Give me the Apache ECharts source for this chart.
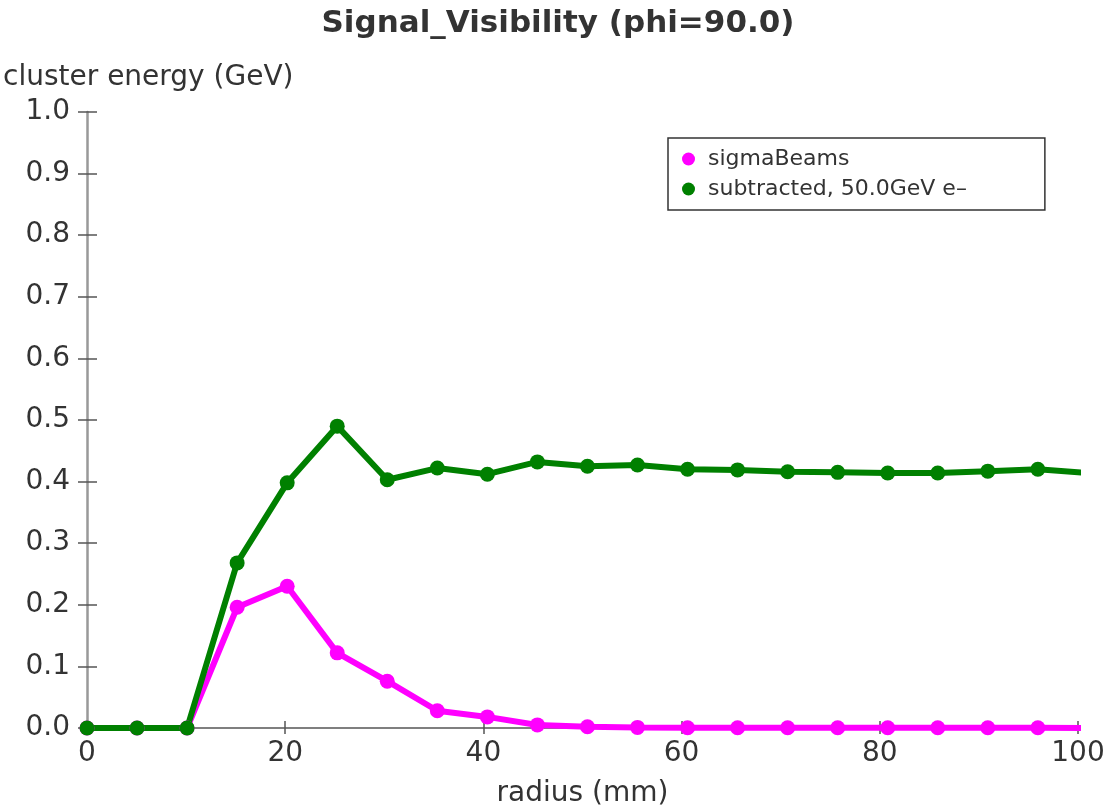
<!DOCTYPE html>
<html>
<head>
<meta charset="utf-8">
<script src="https://cdn.jsdelivr.net/npm/echarts@6/dist/echarts.min.js"></script>
<style>
  html, body { margin: 0; padding: 0; background: #fff; }
  #chart { width: 1116px; height: 809px; }
</style>
</head>
<body>
<div id="chart"></div>
<script>
// radius points (mm), step ~5.05
var radius = [0, 5.05, 10.1, 15.15, 20.2, 25.25, 30.3, 35.35, 40.4, 45.45, 50.5,
              55.55, 60.6, 65.65, 70.7, 75.75, 80.8, 85.85, 90.9, 95.95, 101];
var sigmaBeams = [0, 0, 0, 0.196, 0.230, 0.122, 0.076, 0.028, 0.018, 0.005, 0.002,
                  0.001, 0.0005, 0.0005, 0.0005, 0.0005, 0.0005, 0.0005, 0.0005, 0.0005, 0];
var subtracted = [0, 0, 0, 0.268, 0.398, 0.490, 0.403, 0.422, 0.412, 0.432, 0.425,
                  0.427, 0.420, 0.419, 0.416, 0.415, 0.414, 0.414, 0.417, 0.420, 0.414];

function pairs(xs, ys) {
    var out = [];
    for (var i = 0; i < xs.length; i++) out.push([xs[i], ys[i]]);
    return out;
}

var myChart = echarts.init(document.getElementById('chart'));
var font = 'DejaVu Sans';
var option = {
    animation: false,
    textStyle: { fontFamily: font },
    title: {
        text: 'Signal_Visibility (phi=90.0)',
        left: 'center',
        top: 3,
        textStyle: { fontFamily: font, fontSize: 31, fontWeight: 'bold', color: '#333' }
    },
    legend: {
        orient: 'vertical',
        left: 668,
        top: 138,
        padding: [10, 78, 10, 14],
        itemGap: 8,
        itemWidth: 13,
        itemHeight: 13,
        icon: 'circle',
        borderColor: '#333',
        borderWidth: 1.5,
        borderRadius: 0,
        textStyle: { fontFamily: font, fontSize: 22, color: '#333', padding: [0, 0, 0, 8] },
        data: ['sigmaBeams', 'subtracted, 50.0GeV e\u2013']
    },
    grid: { left: 87, right: 38, top: 112, bottom: 81, containLabel: false, outerBoundsMode: 'none' },
    xAxis: [{
        type: 'value',
        min: 0,
        max: 100,
        interval: 20,
        name: 'radius (mm)',
        nameLocation: 'middle',
        nameGap: 52,
        nameTextStyle: { fontFamily: font, fontSize: 28, color: '#333' },
        axisLine: { lineStyle: { color: '#555', width: 1.5 } },
        axisTick: { inside: true, length: 7, lineStyle: { color: '#555', width: 1.5 } },
        axisLabel: { fontFamily: font, fontSize: 28, color: '#333', margin: 12 },
        splitLine: { show: false }
    }, {
        // outward half of the crossing ticks
        type: 'value',
        position: 'bottom',
        min: 0,
        max: 100,
        interval: 20,
        axisLine: { show: false },
        axisTick: { show: true, length: 6, lineStyle: { color: '#555', width: 1.5 } },
        axisLabel: { show: false },
        splitLine: { show: false }
    }],
    yAxis: [{
        type: 'value',
        min: 0,
        max: 1,
        interval: 0.1,
        name: 'cluster energy (GeV)',
        nameLocation: 'end',
        nameGap: 20,
        nameTextStyle: { fontFamily: font, fontSize: 28, color: '#333', align: 'left', padding: [0, 0, 0, -84] },
        axisLine: { show: true, lineStyle: { color: '#999', width: 2.5 } },
        axisTick: { show: true, inside: true, length: 10, lineStyle: { color: '#555', width: 1.5 } },
        axisLabel: {
            fontFamily: font, fontSize: 28, color: '#333', margin: 17,
            formatter: function (v) { return v.toFixed(1); }
        },
        splitLine: { show: false }
    }, {
        type: 'value',
        position: 'left',
        min: 0,
        max: 1,
        interval: 0.1,
        axisLine: { show: false },
        axisTick: { show: true, length: 9, lineStyle: { color: '#555', width: 1.5 } },
        axisLabel: { show: false },
        splitLine: { show: false }
    }],
    series: [{
        name: 'sigmaBeams',
        type: 'line',
        data: pairs(radius, sigmaBeams),
        symbol: 'circle',
        symbolSize: 15,
        clip: true,
        itemStyle: { color: '#ff00ff' },
        lineStyle: { color: '#ff00ff', width: 6 }
    }, {
        name: 'subtracted, 50.0GeV e\u2013',
        type: 'line',
        data: pairs(radius, subtracted),
        symbol: 'circle',
        symbolSize: 15,
        clip: true,
        itemStyle: { color: '#008000' },
        lineStyle: { color: '#008000', width: 6 }
    }]
};
myChart.setOption(option);
</script>
</body>
</html>
